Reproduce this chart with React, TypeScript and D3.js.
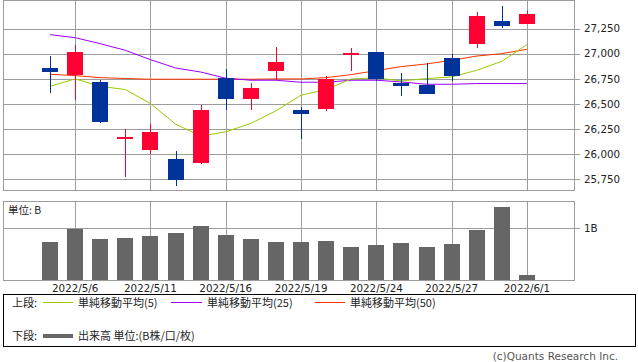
import React from 'react';
import * as d3 from 'd3';

const dates = ['2022/5/2','2022/5/6','2022/5/9','2022/5/10','2022/5/11','2022/5/12','2022/5/13','2022/5/16','2022/5/17','2022/5/18','2022/5/19','2022/5/20','2022/5/23','2022/5/24','2022/5/25','2022/5/26','2022/5/27','2022/5/30','2022/5/31','2022/6/1'];
const openV = [26854,26785,26715,26152,26043,25950,25914,26762,26549,26828,26434,26450,26990,27013,26712,26692,26953,27095,27321,27294];
const highV = [26973,27082,26735,26248,26298,26030,26487,26844,26712,27063,26464,26775,27053,27013,26807,26907,27000,27410,27470,27420];
const lowV = [26609,26543,26311,25775,26000,25685,25904,26440,26440,26735,26152,26430,26828,26728,26579,26599,26728,27056,27254,27294];
const closeV = [26817,27013,26321,26172,26218,25745,26437,26549,26662,26914,26400,26748,27010,26748,26678,26599,26777,27370,27274,27390];
const ma5 = [26675,26748,26675,26642,26503,26298,26179,26221,26305,26430,26586,26642,26748,26758,26728,26752,26768,26834,26924,27089];
const ma25 = [27189,27159,27099,27033,26940,26857,26817,26755,26735,26735,26715,26715,26735,26735,26718,26695,26695,26702,26702,26702];
const ma50 = [26794,26781,26761,26752,26745,26745,26745,26745,26745,26748,26748,26761,26791,26831,26871,26897,26934,26976,27000,27043];
const volume = [0.737,0.99,0.794,0.813,0.852,0.91,1.044,0.871,0.794,0.737,0.737,0.756,0.64,0.679,0.717,0.64,0.698,0.967,1.41,0.102];
const xTicks = ['2022/5/6','2022/5/11','2022/5/16','2022/5/19','2022/5/24','2022/5/27','2022/6/1'];
const priceTicks = [25750,26000,26250,26500,26750,27000,27250];
const volTicks = [1];

const UP = '#ff0033';
const DOWN = '#003399';
const GRID = '#9c9c9c';
const FONT = '"DejaVu Sans", sans-serif';
const JFONT = '"Noto Sans CJK JP", sans-serif';

export default function App() {
  const left = 3, right = 574;
  const x = d3.scalePoint<string>().domain(dates).range([left, right]).padding(1.875);
  const y = d3.scaleLinear().domain([25639, 27529]).range([190.3, 0.5]);
  const yv = d3.scaleLinear().domain([0, 1.525]).range([280.3, 201]);
  const bw = 16;
  const fmt = d3.format(',');

  const mkLine = (vals: number[]) =>
    d3.line<number>().x((_, i) => x(dates[i]) as number).y((v) => y(v))(vals) || '';

  return (
    <svg width={638} height={362} style={{ position: 'absolute', left: 0, top: 0, background: '#fff' }}>
      {/* main panel grid */}
      <g shapeRendering="crispEdges">
        {priceTicks.map((t) => (
          <line key={'pg' + t} x1={left} x2={right + 6} y1={Math.round(y(t)) + 0.5} y2={Math.round(y(t)) + 0.5} stroke={GRID} />
        ))}
        {xTicks.map((d) => (
          <line key={'xg' + d} x1={Math.round(x(d) as number) + 0.5} x2={Math.round(x(d) as number) + 0.5} y1={0} y2={190} stroke={GRID} />
        ))}
        <rect x={left + 0.5} y={0.5} width={right - left} height={189.5} fill="none" stroke={GRID} />
      </g>
      {priceTicks.map((t) => (
        <text key={'pt' + t} x={584} y={y(t) + 3.8} fontFamily={FONT} fontSize={10.3} fill="#222">{fmt(t)}</text>
      ))}
      {/* moving averages */}
      <path d={mkLine(ma50)} fill="none" stroke="#ff3300" strokeWidth={1} />
      <path d={mkLine(ma25)} fill="none" stroke="#9900ff" strokeWidth={1} />
      <path d={mkLine(ma5)} fill="none" stroke="#99cc00" strokeWidth={1} />
      {/* candles */}
      <g shapeRendering="crispEdges">
        {dates.map((d, i) => {
          const cx = Math.round(x(d) as number);
          const up = closeV[i] >= openV[i];
          const col = up ? UP : DOWN;
          const top = y(Math.max(openV[i], closeV[i]));
          const bot = y(Math.min(openV[i], closeV[i]));
          return (
            <g key={'c' + d}>
              <line x1={cx + 0.5} x2={cx + 0.5} y1={y(highV[i])} y2={y(lowV[i])} stroke={col} />
              <rect x={cx - bw / 2} y={top} width={bw} height={Math.max(2, bot - top)} fill={col} />
            </g>
          );
        })}
      </g>
      {/* volume panel */}
      <g shapeRendering="crispEdges">
        {volTicks.map((t) => (
          <line key={'vg' + t} x1={left} x2={right + 6} y1={Math.round(yv(t)) + 0.5} y2={Math.round(yv(t)) + 0.5} stroke={GRID} />
        ))}
        {xTicks.map((d) => (
          <line key={'vx' + d} x1={Math.round(x(d) as number) + 0.5} x2={Math.round(x(d) as number) + 0.5} y1={201} y2={280} stroke={GRID} />
        ))}
        {dates.map((d, i) => {
          const cx = Math.round(x(d) as number);
          return <rect key={'v' + d} x={cx - bw / 2} y={yv(volume[i])} width={bw} height={yv(0) - yv(volume[i])} fill="#666666" />;
        })}
        <rect x={left + 0.5} y={201.5} width={right - left} height={79} fill="none" stroke={GRID} />
      </g>
      {volTicks.map((t) => (
        <text key={'vt' + t} x={584} y={yv(t) + 3.8} fontFamily={FONT} fontSize={10.3} fill="#222">{t}B</text>
      ))}
      <text x={8} y={214} fontFamily={JFONT} fontSize={10.5} fill="#222">単位: B</text>
      {xTicks.map((d) => (
        <text key={'xl' + d} x={x(d) as number} y={292} textAnchor="middle" fontFamily={FONT} fontSize={10.3} fill="#222">{d}</text>
      ))}
      {/* legend */}
      <rect x={3.5} y={294.5} width={632} height={52} fill="none" stroke="#000" shapeRendering="crispEdges" />
      <g fontFamily={JFONT} fontSize={11} fill="#222">
        <text x={12} y={306.5}>上段:</text>
        <line x1={43} x2={73} y1={302.5} y2={302.5} stroke="#99cc00" />
        <text x={78} y={306.5}>単純移動平均(5)</text>
        <line x1={171} x2={202} y1={302.5} y2={302.5} stroke="#9900ff" />
        <text x={207} y={306.5}>単純移動平均(25)</text>
        <line x1={315} x2={345} y1={302.5} y2={302.5} stroke="#ff3300" />
        <text x={350} y={306.5}>単純移動平均(50)</text>
        <text x={12} y={340}>下段:</text>
        <line x1={43} x2={73} y1={336} y2={336} stroke="#666666" strokeWidth={4} />
        <text x={78} y={340}>出来高 単位:(B株/口/枚)</text>
      </g>
      <text x={618} y={359.5} textAnchor="end" fontFamily={FONT} fontSize={10.5} fill="#555">(c)Quants Research Inc.</text>
    </svg>
  );
}
